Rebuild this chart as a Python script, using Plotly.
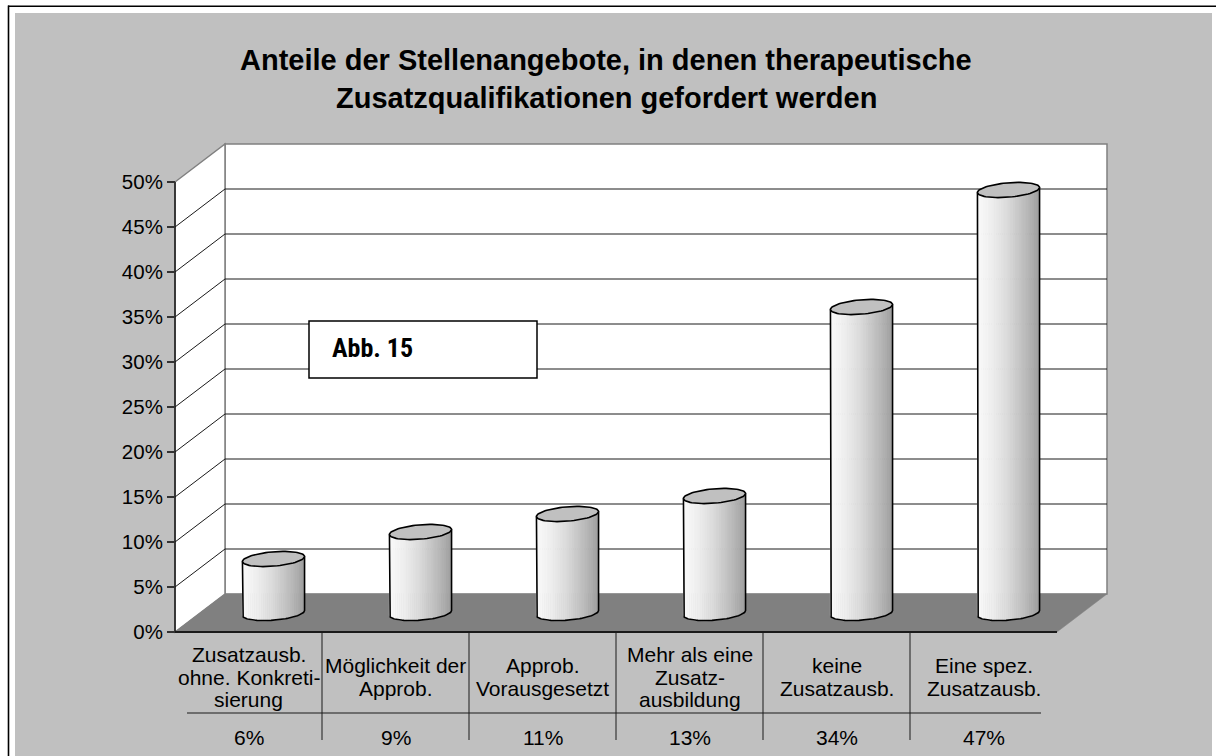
import numpy as np
import plotly.graph_objects as go

# ---------------- data ----------------
title_lines = ["Anteile der Stellenangebote, in denen therapeutische",
               "Zusatzqualifikationen gefordert werden"]
categories = ["Zusatzausb.<br>ohne. Konkreti-<br>sierung",
              "Möglichkeit der<br>Approb.",
              "Approb.<br>Vorausgesetzt",
              "Mehr als eine<br>Zusatz-<br>ausbildung",
              "keine<br>Zusatzausb.",
              "Eine spez.<br>Zusatzausb."]
values = [0.06, 0.09, 0.11, 0.13, 0.34, 0.47]
value_labels = ["6%", "9%", "11%", "13%", "34%", "47%"]
tick_values = [0.0, 0.05, 0.10, 0.15, 0.20, 0.25, 0.30, 0.35, 0.40, 0.45, 0.50]
tick_labels = ["0%", "5%", "10%", "15%", "20%", "25%", "30%", "35%", "40%", "45%", "50%"]
note_text = "Abb. 15"

# ---------------- geometry / style ----------------
W, H = 1216, 756
ML, MR, MT, MB = 148, 98, 133, 2
AX_X, AX_Y = 175, 632          # pixel position of front axis / zero level
PX_CAT, PX_VAL = 147, 900      # pixels per category, pixels per unit value
DEPTH_PX = (50, 38)            # oblique depth offset in pixels
VMAX = 0.5
NCAT = len(categories)
PW, PH = W - ML - MR, H - MT - MB

def dx(px):
    return (px - AX_X) / PX_CAT

def dy(py):
    return (AX_Y - py) / PX_VAL

def ppx(px):
    return (px - ML) / PW

def ppy(py):
    return (H - MB - py) / PH

DX = DEPTH_PX[0] / PX_CAT
DY = DEPTH_PX[1] / PX_VAL
FONT = "Arial, Liberation Sans, sans-serif"
GRAY_BG = "#c0c0c0"


def poly(pts):
    return "M " + " L ".join(f"{x:.5f},{y:.5f}" for x, y in pts) + " Z"


def seg(x0, y0, x1, y1, color="black", width=1.0, layer="below"):
    return dict(type="line", xref="x", yref="y", x0=x0, y0=y0, x1=x1, y1=y1,
                line=dict(color=color, width=width), layer=layer)


shapes = []
# page background: gray panel with black frame line
shapes.append(dict(type="rect", xref="paper", yref="paper", layer="below",
                   x0=ppx(15), x1=ppx(1212), y0=ppy(H + 4), y1=ppy(13),
                   fillcolor=GRAY_BG, line=dict(width=0)))
shapes.append(dict(type="line", xref="paper", yref="paper", layer="below",
                   x0=ppx(8.5), x1=ppx(8.5), y0=ppy(5.5), y1=ppy(H + 4),
                   line=dict(color="black", width=1.6)))
shapes.append(dict(type="line", xref="paper", yref="paper", layer="below",
                   x0=ppx(8), x1=ppx(W + 4), y0=ppy(6.3), y1=ppy(6.3),
                   line=dict(color="black", width=1.6)))

# back wall
shapes.append(dict(type="path", xref="x", yref="y", layer="below",
                   path=poly([(DX, DY), (DX, VMAX + DY), (NCAT + DX, VMAX + DY), (NCAT + DX, DY)]),
                   fillcolor="white", line=dict(color="#808080", width=1.5)))
# left wall
shapes.append(dict(type="path", xref="x", yref="y", layer="below",
                   path=poly([(0, 0), (0, VMAX), (DX, VMAX + DY), (DX, DY)]),
                   fillcolor="white", line=dict(color="#808080", width=1.5)))
# gridlines on walls
for v in tick_values[1:-1]:
    shapes.append(seg(DX, v + DY, NCAT + DX, v + DY, color="#1a1a1a", width=1))
    shapes.append(seg(0, v, DX, v + DY, color="#1a1a1a", width=1))
# floor
shapes.append(dict(type="path", xref="x", yref="y", layer="below",
                   path=poly([(0, 0), (DX, DY), (NCAT + DX, DY), (NCAT, 0)]),
                   fillcolor="#808080", line=dict(color="#808080", width=0.5)))
shapes.append(seg(0, 0, NCAT, 0, color="#1a1a1a", width=2))
shapes.append(seg(0, 0, 0, VMAX, color="#1a1a1a", width=1.5))

# data table lines
TABLE_BOTTOM = dy(740)
TABLE_RULE = dy(713)
for k in range(1, NCAT):
    shapes.append(seg(k, 0, k, TABLE_BOTTOM, color="#1a1a1a", width=1))
shapes.append(seg(dx(187), TABLE_RULE, dx(1041), TABLE_RULE, color="#1a1a1a", width=1))

# note box
shapes.append(dict(type="rect", xref="x", yref="y", layer="above",
                   x0=dx(309), x1=dx(537), y0=dy(321), y1=dy(378),
                   fillcolor="white", line=dict(color="black", width=1.5)))

# ---------------- cylinders ----------------
R_PX = 29.4
R_X = R_PX / PX_CAT
RHO = 0.2
PHI = np.arctan2(RHO * DEPTH_PX[0], R_PX)
NS = 30


def ell(c, v, th):
    d = 0.5 + RHO * np.sin(th)
    return c + R_X * np.cos(th) + d * DX, v + d * DY


def theta_of(xn):
    return 2 * np.pi - np.arccos(np.clip(xn, -1, 1)) + PHI


traces = []
for k in range(NS):
    t = (k + 0.5) / NS
    g = int(round(248 - 90 * t ** 1.5))
    col = f"rgb({g},{g},{g})"
    xa, xb = -1 + 2 * k / NS, -1 + 2 * (k + 1) / NS
    tha = np.linspace(theta_of(xa), theta_of(xb), 4)
    xs, ys = [], []
    for i, v in enumerate(values):
        c = i + 0.5
        top = [ell(c, v, th) for th in tha]
        bot = [ell(c, 0, th) for th in tha[::-1]]
        pts = top + bot + [top[0]]
        xs += [p[0] for p in pts] + [None]
        ys += [p[1] for p in pts] + [None]
    traces.append(go.Scatter(x=xs, y=ys, mode="lines", fill="toself", fillcolor=col,
                             line=dict(color=col, width=0.8), hoverinfo="skip"))

# outline of bodies
xs, ys = [], []
for i, v in enumerate(values):
    c = i + 0.5
    pts = [ell(c, v, np.pi + PHI)]
    pts += [ell(c, 0, th) for th in np.linspace(np.pi + PHI, 2 * np.pi + PHI, 60)]
    pts += [ell(c, v, 2 * np.pi + PHI)]
    xs += [p[0] for p in pts] + [None]
    ys += [p[1] for p in pts] + [None]
traces.append(go.Scatter(x=xs, y=ys, mode="lines", line=dict(color="black", width=1.6),
                         hoverinfo="skip"))

# top faces
xs, ys = [], []
for i, v in enumerate(values):
    c = i + 0.5
    pts = [ell(c, v, th) for th in np.linspace(0, 2 * np.pi, 80)]
    xs += [p[0] for p in pts] + [None]
    ys += [p[1] for p in pts] + [None]
traces.append(go.Scatter(x=xs, y=ys, mode="lines", fill="toself", fillcolor=GRAY_BG,
                         line=dict(color="black", width=1.6), hoverinfo="skip"))

fig = go.Figure(traces)

# ---------------- annotations ----------------
annotations = []
TITLE_Y = [60.0, 98.5]
for line, py in zip(title_lines, TITLE_Y):
    annotations.append(dict(text=f"<b>{line}</b>", xref="paper", yref="paper",
                            x=ppx(606), y=ppy(py), xanchor="center", yanchor="middle",
                            showarrow=False, font=dict(family=FONT, size=29, color="black")))

LABEL_CENTER = dy(677)
LINE_GAP = 22.5 / PX_VAL
LABEL_SIZE = 21
for i, cat in enumerate(categories):
    lines = cat.split("<br>")
    n = len(lines)
    for j, ln in enumerate(lines):
        yv = LABEL_CENTER + ((n - 1) / 2 - j) * LINE_GAP
        annotations.append(dict(text=ln, x=i + 0.5, y=yv, xref="x", yref="y",
                                xanchor="center", yanchor="middle", showarrow=False,
                                font=dict(family=FONT, size=LABEL_SIZE, color="black")))
    annotations.append(dict(text=value_labels[i], x=i + 0.5, y=dy(737), xref="x", yref="y",
                            xanchor="center", yanchor="middle", showarrow=False,
                            font=dict(family=FONT, size=LABEL_SIZE, color="black")))

annotations.append(dict(text=f"<b>{note_text}</b>", x=dx(330), y=dy(347.5), xref="x", yref="y",
                        xanchor="left", yanchor="middle", showarrow=False,
                        font=dict(family="Liberation Sans Narrow, Arial Narrow, Roboto Condensed, Roboto, sans-serif",
                                  size=26, color="black")))

fig.update_layout(
    width=W, height=H,
    margin=dict(l=ML, r=MR, t=MT, b=MB, autoexpand=False),
    paper_bgcolor="white", plot_bgcolor="rgba(0,0,0,0)",
    showlegend=False,
    shapes=shapes, annotations=annotations,
    xaxis=dict(range=[dx(ML), dx(W - MR)], visible=False, fixedrange=True),
    yaxis=dict(range=[dy(H - MB), dy(MT)], anchor="free", position=ppx(AX_X),
               tickvals=tick_values, ticktext=tick_labels,
               ticks="outside", ticklen=8, tickwidth=1.5, tickcolor="#333333",
               showgrid=False, zeroline=False, showline=False, fixedrange=True,
               tickfont=dict(family=FONT, size=20.5, color="black")),
)

fig.write_html("out.html", config={"displayModeBar": False},
               post_script="document.body.style.margin='0';document.body.style.overflow='hidden';")
